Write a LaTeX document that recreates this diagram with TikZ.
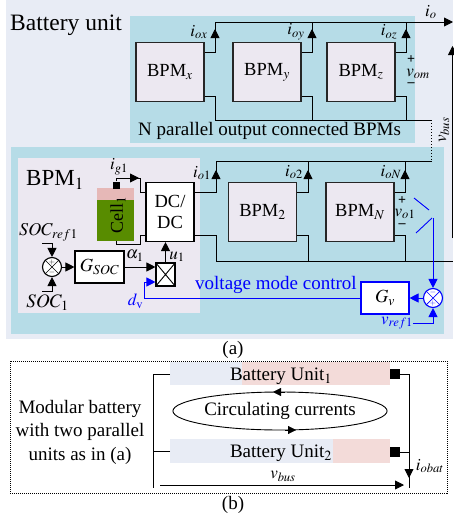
\documentclass[tikz,border=0pt]{standalone}
\usepackage{mathptmx}
\usepackage{amsmath}
\usepackage{fontspec}
\setmainfont{Liberation Serif}
\usetikzlibrary{arrows.meta,shapes.geometric}
\definecolor{unitbg}{RGB}{232,236,245}
\definecolor{tealbg}{RGB}{182,220,231}
\definecolor{modbg}{RGB}{236,232,241}
\definecolor{pinkbg}{RGB}{243,219,217}
\definecolor{cellg}{RGB}{88,140,0}
\definecolor{cellp}{RGB}{230,184,183}
\definecolor{ctrl}{RGB}{0,0,255}
\tikzset{
  wire/.style={line width=0.9pt,-},
  flow/.style={line width=0.9pt,-{Triangle[length=9pt,width=9pt]}},
  bpm/.style={draw=black!85,line width=1.1pt,fill=modbg,minimum width=68pt,minimum height=59pt,inner sep=0pt,font=\fontsize{18.5}{18.5}\selectfont},
  whitebox/.style={draw,line width=1.1pt,fill=white,inner sep=0pt,font=\fontsize{18.5}{18.5}\selectfont},
  lab/.style={font=\fontsize{17}{17}\selectfont,inner sep=0pt},
  big/.style={font=\fontsize{19}{19}\selectfont,inner sep=0pt},
  pol/.style={font=\fontsize{14}{14}\bfseries\selectfont,inner sep=0pt},
  sumsign/.style={font=\fontsize{8}{8}\selectfont,inner sep=0pt},
}
\begin{document}
\begin{tikzpicture}[x=1pt,y=-1pt]
  \useasboundingbox (0,0) rectangle (453,522);
  % backgrounds
  \fill [unitbg] (6,0) rectangle (453,339);
  \fill [tealbg] (130,16) rectangle (415,143);
  \fill [tealbg] (11,147) rectangle (444,334);
  \fill [modbg] (18,158) rectangle (200,313);
  % top row
  \node [bpm] (bx) at (170,72) {BPM$_x$};
  \node [bpm] (by) at (267,72) {BPM$_y$};
  \node [bpm] (bz) at (361,72) {BPM$_z$};
  \coordinate (tx) at (215,22);
  \coordinate (ty) at (312,22);
  \coordinate (tz) at (406,22);
  \coordinate (bot) at (431.5,120);
  \draw [wire] ([yshift=20pt]bx.east)-|(tx)--(tz);
  \draw [wire] ([yshift=20pt]by.east)-|(ty);
  \draw [wire] ([yshift=20pt]bz.east)-|(tz);
  \draw [wire] ([yshift=-24pt]bx.east)-|(215,120)--(bot);
  \draw [wire] ([yshift=-24pt]by.east)-|(312,120);
  \draw [wire] ([yshift=-24pt]bz.east)-|(406,120);
  \draw [flow] (215,44)--(215,29);
  \draw [flow] (312,44)--(312,29);
  \draw [flow] (406,44)--(406,29);
  \draw [flow] (tz)--(453,22);
  \draw [line width=1pt,dotted] (bot)--(431.5,161);
  \draw [line width=0.8pt,-{Triangle[length=9pt,width=9pt]}] (452.5,238)--(452.5,46);
  \node [lab] (iox) at (199,32) {$i_{ox}$};
  \node [lab] (ioy) at (296,32) {$i_{oy}$};
  \node [lab] (ioz) at (389,32) {$i_{oz}$};
  \node [lab] (io) at (431,12) {$i_{o}$};
  \node [pol] (plus) at (411,60) {+};
  \node [lab] (vom) at (418,74) {$v_{om}$};
  \node [pol] (minus) at (411,85) {–};
  \node [lab,rotate=90] (vbus) at (444,130) {$v_{bus}$};
  \node [font=\fontsize{23.5}{23.5}\selectfont,inner sep=0pt,anchor=west] (title) at (10,25) {Battery unit};
  \node [big,anchor=west] (npar) at (138,131) {N parallel output connected BPMs};
  % lower row
  \node [whitebox,minimum width=48pt,minimum height=59pt,align=center] (dc) at (170,212) {DC/\\[3pt]DC};
  \node [bpm] (b2) at (262.5,212) {BPM$_2$};
  \node [bpm] (bn) at (360,212) {BPM$_N$};
  \coordinate (busl) at (453,261);
  \draw [wire] ([yshift=20pt]dc.east)-|(216,161)--(431.5,161);
  \draw [wire] ([yshift=20pt]b2.east)-|(308,161);
  \draw [wire] ([yshift=20pt]bn.east)-|(405,161);
  \draw [wire] ([yshift=-23pt]dc.east)-|(216,261)--(busl);
  \draw [wire] ([yshift=-23pt]b2.east)-|(308,261);
  \draw [wire] ([yshift=-23pt]bn.east)-|(405,261);
  \draw [flow] (216,183)--(216,170);
  \draw [flow] (308,183)--(308,170);
  \draw [flow] (405,183)--(405,170);
  \node [lab] (io1) at (202,173) {$i_{o1}$};
  \node [lab] (io2) at (294,172) {$i_{o2}$};
  \node [lab] (ioN) at (391,172) {$i_{oN}$};
  \node [pol] (plus1) at (402,201) {+};
  \node [lab] (vo1) at (405,214) {$v_{o1}$};
  \node [pol] (minus1) at (402,226) {–};
  \node [anchor=west,inner sep=0pt,font=\fontsize{23}{23}\selectfont] (bpm1) at (26,180) {BPM$_1$};
  % cell
  \fill [cellp] (97,188) rectangle (134,200);
  \fill [cellg] (97,200) rectangle (134,241);
  \node [rotate=90,inner sep=0pt,font=\fontsize{18}{18}\selectfont] (cell) at (118,215) {Cell$_1$};
  \node [fill=black,minimum size=7pt,inner sep=0pt] (term) at (116,185) {};
  \draw [wire] (term.north)--(116,178)--(140,178)--(140,192)--(dc.west|-0,192);
  \draw [flow] (116,178)--(139,178);
  \draw [wire] (116,241)--(116,244)--(140,244)--(140,235)--(dc.west|-0,235);
  \node [lab] (ig1) at (119,167) {$i_{g1}$};
  % soc loop
  \node [circle,draw,line width=1.1pt,fill=white,minimum size=19pt,inner sep=0pt] (sum) at (52,267) {};
  \draw [line width=0.7pt] (sum.45)--(sum.225) (sum.135)--(sum.315);
  \node [sumsign] (sump) at (52,262) {$+$};
  \node [sumsign] (summ) at (52,272.5) {$-$};
  \node [whitebox,minimum width=49pt,minimum height=32pt] (gsoc) at (99.5,267) {$G_{SOC}$};
  \node [whitebox,minimum width=19pt,minimum height=23pt] (mult) at (165.5,274.5) {};
  \draw [line width=0.9pt] (mult.north west)--(mult.south east) (mult.north east)--(mult.south west);
  \draw [flow] (sum)--(gsoc);
  \draw [flow] (gsoc.east|-0,267)--(mult.west|-0,267);
  \draw [flow] (mult.north)--(dc.south-|mult.north);
  \coordinate (socrefin) at (42,243);
  \coordinate (socin) at (42,291);
  \draw [flow] (socrefin)-|(sum.north);
  \draw [flow] (socin)-|(sum.south);
  \node [lab,font=\fontsize{18}{18}\selectfont] (socref) at (48.5,232) {$SOC_{ref1}$};
  \node [big] (soc1) at (47.5,303) {$SOC_{1}$};
  \node [lab] (alpha) at (135,256) {$\alpha_{1}$};
  \node [lab] (u1) at (177,257) {$u_{1}$};
  % voltage loop
  \node [whitebox,draw=ctrl,minimum width=48pt,minimum height=32pt] (gv) at (385,298) {$G_{v}$};
  \node [circle,draw=ctrl,line width=1.1pt,fill=white,minimum size=19pt,inner sep=0pt] (sumv) at (433,298) {};
  \draw [ctrl,line width=0.7pt] (sumv.45)--(sumv.225) (sumv.135)--(sumv.315);
  \node [sumsign,ctrl] (sumvm) at (433,292.5) {$-$};
  \node [sumsign,ctrl] (sumvp) at (433,303) {$+$};
  \draw [flow,ctrl] (sumv)--(gv);
  \draw [flow,ctrl] (gv.west)--(144,298)--(144,282)--(mult.west|-0,282);
  \coordinate (swin) at (433,218);
  \draw [flow,ctrl] (swin)--(sumv.north);
  \coordinate (vrefin) at (413,323);
  \draw [flow,ctrl] (vrefin)-|(sumv.south);
  \draw [ctrl,line width=0.9pt] (414,198)--(429,210) (416,233)--(432,218);
  \node [big,ctrl,anchor=west] (vmc) at (195,285) {voltage mode control};
  \node [lab,ctrl] (dv) at (135.5,301) {$d_{\mathrm{v}}$};
  \node [lab,ctrl] (vref) at (397,323) {$v_{ref1}$};
  \node [big] (capa) at (233,350) {(a)};
  % part b
  \fill [unitbg] (170,362) rectangle (390,385);
  \fill [pinkbg] (242,362) rectangle (390,385);
  \fill [unitbg] (170,439) rectangle (390,463);
  \fill [pinkbg] (333,439) rectangle (390,463);
  \draw [densely dotted,line width=1pt] (10,361) rectangle (447,493);
  \node [big] (u1b) at (281,376) {Battery Unit$_1$};
  \node [big] (u2b) at (281,453) {Battery Unit$_2$};
  \node [fill=black,minimum size=10pt,inner sep=0pt] (t1) at (394.5,374) {};
  \node [fill=black,minimum size=10pt,inner sep=0pt] (t2) at (394.5,452) {};
  \coordinate (l1) at (170,374);
  \coordinate (l2) at (170,451);
  \draw [wire] (l1)--(153,374)--(153,488);
  \draw [wire] (l2)--(153,451);
  \draw [wire] (t1)--(409,374)--(409,488);
  \draw [wire] (t2)--(409,452);
  \draw [flow] (409,460)--(409,478);
  \node [draw,ellipse,line width=0.9pt,inner sep=0pt,minimum width=190pt,minimum height=38pt,big] (circ) at (280,411) {Circulating currents};
  \draw [-{Triangle[length=8pt,width=8pt]}] (285,392)--(273,392);
  \draw [-{Triangle[length=8pt,width=8pt]}] (285,430)--(296,430);
  \node [big,align=center,font=\fontsize{19}{23.5}\selectfont] (modtxt) at (80,432) {Modular battery\\with two parallel\\units as in (a)};
  \coordinate (vs) at (160,485);
  \coordinate (ve) at (404,485);
  \draw [flow] (vs)--(ve);
  \node [lab] (vbusb) at (283,476) {$v_{bus}$};
  \node [lab] (iobat) at (430,466) {$i_{obat}$};
  \node [big] (capb) at (233,505) {(b)};
\end{tikzpicture}
\end{document}
